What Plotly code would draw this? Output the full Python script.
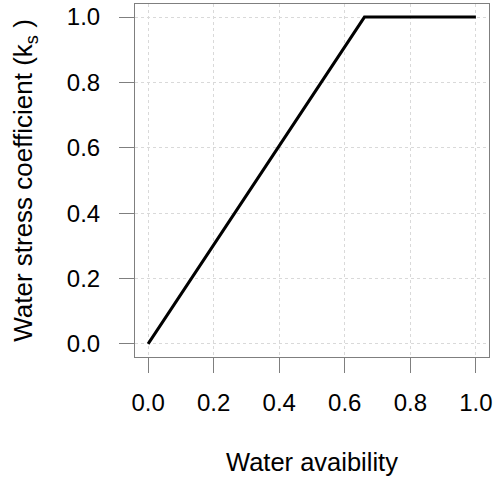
import plotly.graph_objects as go

# water availability vs water stress coefficient (ks)
availability = [0.0, 0.66, 1.0]
ks = [0.0, 1.0, 1.0]
tick_vals = [0.0, 0.2, 0.4, 0.6, 0.8, 1.0]
tick_text = ["0.0", "0.2", "0.4", "0.6", "0.8", "1.0"]

fig = go.Figure()
fig.add_trace(go.Scatter(x=availability, y=ks, mode="lines",
                         line=dict(color="black", width=3), showlegend=False))

axis_style = dict(
    range=[-0.04, 1.04], tickvals=tick_vals, ticktext=tick_text,
    showline=True, mirror=True, linecolor="#7f7f7f", linewidth=1,
    ticks="outside", ticklen=15, tickcolor="#7f7f7f", tickwidth=1,
    showgrid=True, gridcolor="#d9d9d9", griddash="dot", gridwidth=1,
    zeroline=False, tickfont=dict(size=24, color="black"),
    automargin=False, ticklabeloverflow="allow",
)

fig.update_layout(
    width=493, height=481,
    margin=dict(l=135, r=4, t=4, b=124),
    plot_bgcolor="white", paper_bgcolor="white",
    font=dict(family="Liberation Sans, Arial, sans-serif", color="black"),
    xaxis=dict(**axis_style, ticklabelstandoff=9,
               title=dict(text="Water avaibility", font=dict(size=25.5), standoff=38)),
    yaxis=dict(**axis_style, ticklabelstandoff=14,
               title=dict(text="Water stress coefficient (k<sub>s</sub> )", font=dict(size=26), standoff=26)),
)

# drop the browser's default page margin so the figure sits at the top-left corner
fig.write_html("out.html", config={"displayModeBar": False},
               post_script="document.body.style.margin='0';")
